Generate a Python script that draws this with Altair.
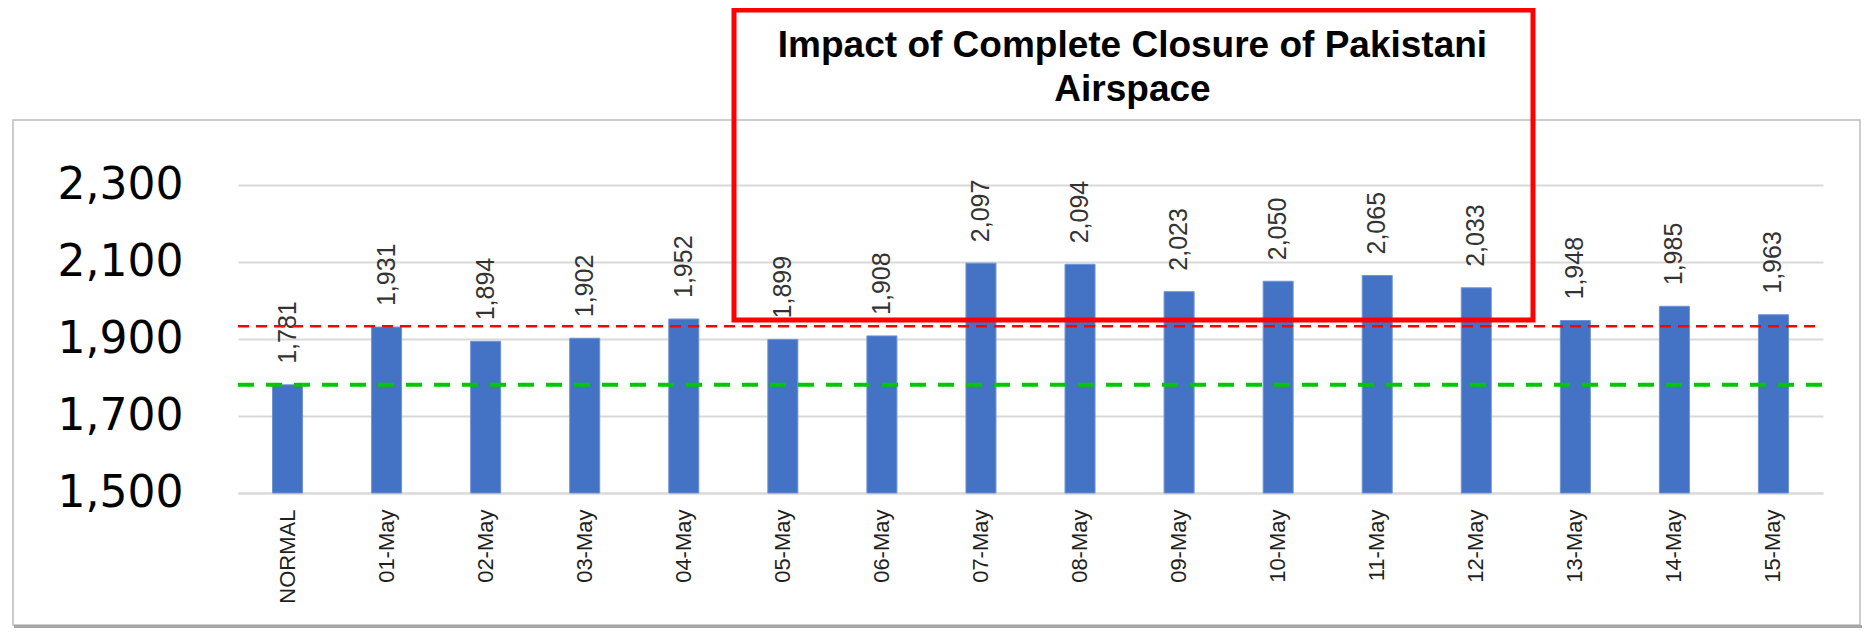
import altair as alt
import pandas as pd

categories = ["NORMAL", "01-May", "02-May", "03-May", "04-May", "05-May", "06-May",
              "07-May", "08-May", "09-May", "10-May", "11-May", "12-May", "13-May",
              "14-May", "15-May"]
values = [1781, 1931, 1894, 1902, 1952, 1899, 1908, 2097, 2094, 2023, 2050, 2065,
          2033, 1948, 1985, 1963]
y_ticks = [1500, 1700, 1900, 2100, 2300]
normal_level = [1781]
red_level = [1933]
title_lines = ["Impact of Complete Closure of Pakistani", "Airspace"]

df = pd.DataFrame({"day": categories, "flights": values})
one = pd.DataFrame({"a": [0]})

W, H = 1585, 308
SANS = "Liberation Sans, Arial"

x_scale = alt.Scale(domain=categories, paddingInner=0.697, paddingOuter=0.3485)
y_scale = alt.Scale(domain=[1500, 2300], nice=False, zero=False)

x_axis = alt.Axis(title=None, labelAngle=270, labelFont=SANS,
                  labelFontSize=22, labelColor="#1f1f1f", labelPadding=16,
                  ticks=False, tickSize=0, domainColor="#d9d9d9",
                  domainWidth=2, grid=False)
y_axis = alt.Axis(title=None, values=y_ticks, format=",d",
                  labelFont="DejaVu Sans", labelFontSize=44,
                  labelColor="#000000", labelPadding=55, ticks=False,
                  tickSize=0, domain=False, gridColor="#d9d9d9", gridWidth=2)

x_enc = alt.X("day:N", sort=categories, scale=x_scale, axis=x_axis)
y_enc = alt.Y("flights:Q", scale=y_scale, axis=y_axis)

border = alt.Chart(one).mark_rect(fillOpacity=0, stroke="#bdbdbd", strokeWidth=1.5).encode(
    x=alt.value(-225), x2=alt.value(1622), y=alt.value(-65), y2=alt.value(440))
shadow = alt.Chart(one).mark_rule(color="#a6a6a6", strokeWidth=4).encode(
    x=alt.value(-224), x2=alt.value(1624), y=alt.value(442))

bars = alt.Chart(df).mark_bar(color="#4472C4", stroke="#6f93d8", strokeWidth=1).encode(
    x=x_enc, y=y_enc, y2=alt.datum(1500))

labels = alt.Chart(df).mark_text(angle=270, align="left", baseline="middle", dx=21,
                                 font=SANS, fontSize=25, color="#333333").encode(
    x=x_enc, y=y_enc, text=alt.Text("flights:Q", format=","))

green = alt.Chart(pd.DataFrame({"flights": normal_level})).mark_rule(
    color="#00c800", strokeWidth=4, strokeDash=[16, 12]).encode(
    y=y_enc, x=alt.value(0), x2=alt.value(W))

red = alt.Chart(pd.DataFrame({"flights": red_level})).mark_rule(
    color="#ff0000", strokeWidth=2.5, strokeDash=[11, 7]).encode(
    y=y_enc, x=alt.value(0), x2=alt.value(1579))

box = alt.Chart(one).mark_rect(fillOpacity=0, stroke="#ff0000", strokeWidth=5).encode(
    x=alt.value(496), x2=alt.value(1295), y=alt.value(-175), y2=alt.value(135))

title = alt.Chart(one).mark_text(text=title_lines, font=SANS,
                                 fontWeight="bold", fontSize=37, lineHeight=44,
                                 align="center", baseline="alphabetic", color="#000000").encode(
    x=alt.value(894.5), y=alt.value(-128.3))

chart = alt.layer(border, shadow, bars, labels, green, red, box, title).properties(
    width=W, height=H,
    background="white",
    autosize=alt.AutoSizeParams(type="none"),
    padding={"left": 230, "top": 177, "right": 39, "bottom": 135},
).configure_view(strokeWidth=0, stroke="transparent")

chart.save("out.html", embed_options={"renderer": "svg", "actions": False})
